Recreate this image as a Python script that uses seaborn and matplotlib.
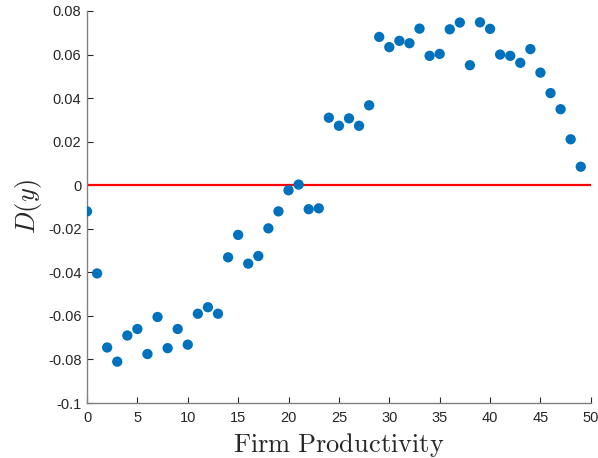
import matplotlib
matplotlib.use("Agg")
import matplotlib.pyplot as plt
import seaborn as sns
import pandas as pd

x_vals = list(range(50))
d_vals = [-0.0120, -0.0405, -0.0745, -0.0810, -0.0690, -0.0660, -0.0775, -0.0605,
          -0.0748, -0.0660, -0.0732, -0.0590, -0.0560, -0.0590, -0.0331, -0.0228,
          -0.0360, -0.0325, -0.0198, -0.0120, -0.0023, 0.0003, -0.0110, -0.0106,
          0.0310, 0.0273, 0.0307, 0.0273, 0.0367, 0.0681, 0.0634, 0.0663, 0.0652,
          0.0719, 0.0594, 0.0603, 0.0716, 0.0747, 0.0551, 0.0748, 0.0718, 0.0600,
          0.0594, 0.0562, 0.0625, 0.0517, 0.0423, 0.0349, 0.0211, 0.0085]
xticks = [0, 5, 10, 15, 20, 25, 30, 35, 40, 45, 50]
yticks = [-0.1, -0.08, -0.06, -0.04, -0.02, 0, 0.02, 0.04, 0.06, 0.08]
ytick_labels = ["-0.1", "-0.08", "-0.06", "-0.04", "-0.02", "0", "0.02", "0.04", "0.06", "0.08"]

df = pd.DataFrame({"x": x_vals, "D": d_vals})

sns.set_style("ticks")
plt.rcParams['font.family'] = ['Liberation Sans', 'DejaVu Sans']
plt.rcParams['mathtext.fontset'] = 'cm'

fig = plt.figure(figsize=(5.98, 4.58), dpi=100)
ax = fig.add_axes([0.1455, 0.12, 0.8425, 0.856])

ax.axhline(0, color="#ff0000", lw=1.6, zorder=1)
sns.scatterplot(data=df, x="x", y="D", ax=ax, color="#0072BD", s=55,
                edgecolor="none", linewidth=0, zorder=3, legend=False)

ax.set_xlim(0, 50)
ax.set_ylim(-0.1, 0.08)
ax.set_xticks(xticks)
ax.set_xticklabels([str(t) for t in xticks])
ax.set_yticks(yticks)
ax.set_yticklabels(ytick_labels)
ax.tick_params(direction="in", length=4, width=0.8, labelsize=10.5,
               colors="#262626", pad=4)
ax.tick_params(axis="x", pad=6)
for s in ["top", "right"]:
    ax.spines[s].set_visible(False)
for s in ["left", "bottom"]:
    ax.spines[s].set_color("#808080")
    ax.spines[s].set_linewidth(1.0)

ax.set_xlabel(r"$\mathrm{Firm\ Productivity}$", fontsize=19, color="#262626", labelpad=4)
ax.set_ylabel(r"$D(y)$", fontsize=19, color="#262626", labelpad=3)

fig.savefig("out.png", dpi=100)
